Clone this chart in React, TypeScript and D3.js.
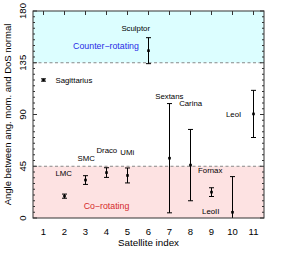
import React from 'react';
import { scaleLinear, range } from 'd3';

// satellites, in index order
const names = ['Sagittarius', 'LMC', 'SMC', 'Draco', 'UMi', 'Sculptor', 'Sextans', 'Carina', 'Fornax', 'LeoII', 'LeoI'];
const satIndex = [1, 2, 3, 4, 5, 6, 7, 8, 9, 10, 11];
const angles = [120, 19, 33, 39.5, 37, 145.5, 52, 46, 22.5, 5, 90.5];
const errors = [1, 1.8, 3.8, 4.2, 6.5, 11.3, 47.5, 31, 3.8, 31, 20.5];
// where each name sits, in data units (index, angle)
const labelX = [1.57, 1.57, 2.62, 3.52, 4.66, 4.71, 6.32, 7.46, 8.36, 8.55, 9.69];
const labelY = [117.4, 36.5, 49.6, 56.5, 54.8, 162.6, 103.9, 97.8, 38.7, 3.5, 87.8];

const xTicks = [1, 2, 3, 4, 5, 6, 7, 8, 9, 10, 11];
const yTicks = [0, 45, 90, 135, 180];

const W = 281, H = 254;
const m = { left: 33, right: 264, top: 11, bottom: 218 };

function App() {
  const x = scaleLinear().domain([0.5, 11.5]).range([m.left, m.right]);
  const y = scaleLinear().domain([0, 180]).range([m.bottom, m.top]);
  const minor = range(0, 181, 5);
  const font = 'Liberation Sans, Arial, sans-serif';

  return (
    <div style={{ position: 'fixed', left: 0, top: 0 }}>
      <svg width={W} height={H} style={{ display: 'block', fontFamily: font }}>
        <rect width={W} height={H} fill="#fff" />
        <defs>
          <clipPath id="plot">
            <rect x={m.left} y={m.top} width={m.right - m.left} height={m.bottom - m.top} />
          </clipPath>
        </defs>
        {/* regions */}
        <rect x={m.left} y={y(180)} width={m.right - m.left} height={y(135) - y(180)} fill="#dcfeff" />
        <rect x={m.left} y={y(45)} width={m.right - m.left} height={y(0) - y(45)} fill="#fde2e2" />
        {[45, 135].map(v => (
          <line key={v} x1={m.left} x2={m.right} y1={y(v)} y2={y(v)} stroke="#888" strokeDasharray="3,2.5" />
        ))}
        <text x={(x(2) + x(5)) / 2 + 10} y={48.5} fontSize={8.8} fill="#2a2ae6" textAnchor="middle">Counter−rotating</text>
        <text x={(x(3) + x(5)) / 2} y={209} fontSize={8.8} fill="#d42a2a" textAnchor="middle">Co−rotating</text>

        {/* error bars */}
        <g clipPath="url(#plot)" stroke="#000" strokeWidth={1}>
          {satIndex.map((s, i) => {
            const cx = x(s);
            const lo = y(angles[i] - errors[i]);
            const hi = y(angles[i] + errors[i]);
            return (
              <g key={s}>
                <line x1={cx} x2={cx} y1={lo} y2={hi} />
                <line x1={cx - 2.5} x2={cx + 2.5} y1={lo} y2={lo} />
                <line x1={cx - 2.5} x2={cx + 2.5} y1={hi} y2={hi} />
                <rect x={cx - 1.3} y={y(angles[i]) - 1.3} width={2.6} height={2.6} fill="#000" stroke="none" />
              </g>
            );
          })}
        </g>
        {names.map((n, i) => (
          <text key={n} x={x(labelX[i])} y={y(labelY[i])} fontSize={7.8} fill="#000">{n}</text>
        ))}

        {/* frame and ticks */}
        <rect x={m.left} y={m.top} width={m.right - m.left} height={m.bottom - m.top} fill="none" stroke="#333" />
        {xTicks.map(t => (
          <line key={t} x1={x(t)} x2={x(t)} y1={m.top} y2={m.top + 4} stroke="#333" />
        ))}
        {minor.map(t => {
          const len = t % 45 === 0 ? 4 : 2;
          return (
            <g key={t} stroke="#333">
              <line x1={m.left} x2={m.left + len} y1={y(t)} y2={y(t)} />
              <line x1={m.right} x2={m.right - len} y1={y(t)} y2={y(t)} />
            </g>
          );
        })}
        {xTicks.map(t => (
          <text key={t} x={x(t)} y={234.5} fontSize={9.5} textAnchor="middle" fill="#000">{t}</text>
        ))}
        {yTicks.map(t => (
          <text key={t} transform={`translate(25.5,${y(t)}) rotate(-90)`} fontSize={9.5} textAnchor="middle" fill="#000">{t}</text>
        ))}
        <text x={(m.left + m.right) / 2} y={246} fontSize={9.8} textAnchor="middle" fill="#000">Satellite index</text>
        <text transform={`translate(11,${(m.top + m.bottom) / 2}) rotate(-90)`} fontSize={9.5} textAnchor="middle" fill="#000">
          Angle between ang. mom. and DoS normal
        </text>
      </svg>
    </div>
  );
}

export default App;
